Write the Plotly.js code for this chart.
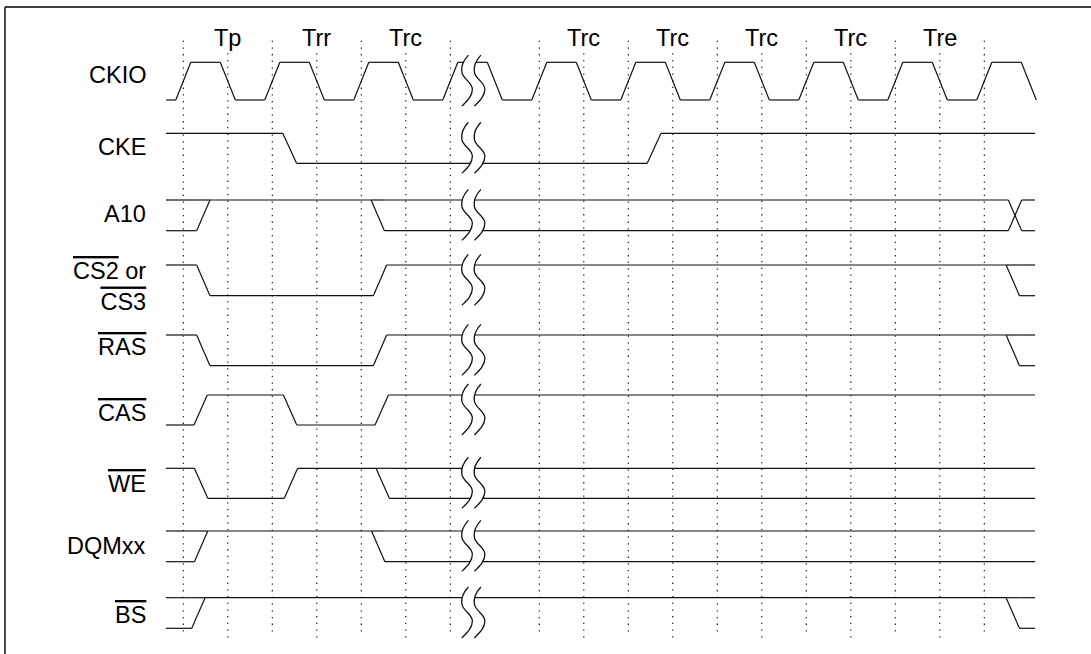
<!DOCTYPE html>
<html><head><meta charset="utf-8">
<script src="https://cdn.plot.ly/plotly-3.0.1.min.js"></script>
<style>html,body{margin:0;padding:0;background:#fff}</style>
</head><body><div id="chart" style="width:1091px;height:654px"></div>
<script>
// ---------- DATA (time in half-clock units, states H / L / X = both levels) ----------
const signalLabels = ['CKIO', 'CKE', 'A10', 'CS2 or CS3', 'RAS', 'CAS', 'WE', 'DQMxx', 'BS'];
const overlined = [false, false, false, true, true, true, true, false, true];

const ckioInit = 'L';
const ckioTimes  = [0, 1, 2, 3, 4, 5, 6, 7, 8, 9, 10, 11, 12, 13, 14, 15, 16, 17, 18, 19];
const ckioStates = ['H','L','H','L','H','L','H','L','H','L','H','L','H','L','H','L','H','L','H','L'];

const ckeInit = 'H';
const ckeTimes = [2.39, 10.58];
const ckeStates = ['L', 'H'];

const a10Init = 'X';
const a10Times = [0.45, 4.37, 18.69];
const a10States = ['H', 'X', 'X'];

const csInit = 'H';
const csTimes = [0.45, 4.42, 18.64];
const csStates = ['L', 'H', 'X'];

const rasInit = 'H';
const rasTimes = [0.45, 4.42, 18.64];
const rasStates = ['L', 'H', 'X'];

const casInit = 'L';
const casTimes = [0.39, 2.40, 4.46];
const casStates = ['H', 'L', 'H'];

const weInit = 'H';
const weTimes = [0.40, 2.42, 4.48];
const weStates = ['L', 'H', 'X'];

const dqmInit = 'X';
const dqmTimes = [0.40, 4.38];
const dqmStates = ['H', 'X'];

const bsInit = 'X';
const bsTimes = [0.34, 18.64];
const bsStates = ['H', 'X'];

const cycleLabels = ['Tp', 'Trr', 'Trc', 'Trc', 'Trc', 'Trc', 'Trc', 'Tre'];
const cycleLabelTimes = [1, 3, 5, 9, 11, 13, 15, 17];

const cycleEdgeTimes = [0, 2, 4, 6, 8, 10, 12, 14, 16, 18];
const halfEdgeTimes = [1, 3, 5, 9, 11, 13, 15, 17];

const breakTime = 6.26;
const startTime = -0.39;
const endTime = 19.14;

// ---------- LAYOUT CONSTANTS ----------
const W = 1091, H = 654;
const X0 = 183.3, UNIT = 44.5;           // pixel of t=0, pixels per half clock
const rowTop = [62.3, 133.3, 200, 265, 335, 395, 468.3, 531, 597.7];
const rowBot = [100, 163.3, 230.7, 295.7, 365.7, 425, 498.3, 561.7, 628.3];
const labelY = [75, 147, 214, 0, 347, 413, 484, 545.5, 615];
const FONT = 'Liberation Sans, Arial, Helvetica, sans-serif';
const FS = 23.5;

const signals = [
  {init: ckioInit, times: ckioTimes, states: ckioStates, hw: 0.169},
  {init: ckeInit, times: ckeTimes, states: ckeStates, hw: 0.155},
  {init: a10Init, times: a10Times, states: a10States, hw: 0.15},
  {init: csInit, times: csTimes, states: csStates, hw: 0.15},
  {init: rasInit, times: rasTimes, states: rasStates, hw: 0.15},
  {init: casInit, times: casTimes, states: casStates, hw: 0.15},
  {init: weInit, times: weTimes, states: weStates, hw: 0.15},
  {init: dqmInit, times: dqmTimes, states: dqmStates, hw: 0.15},
  {init: bsInit, times: bsTimes, states: bsStates, hw: 0.15}
];

function levels(s, r) {
  if (s === 'H') return [rowTop[r]];
  if (s === 'L') return [rowBot[r]];
  return [rowTop[r], rowBot[r]];
}

function buildSignal(sig, r) {
  const xs = [], ys = [];
  const seg = (xa, ya, xb, yb) => { xs.push(xa, xb, null); ys.push(ya, yb, null); };
  let cur = sig.init, segStart = startTime;
  sig.times.forEach((tc, i) => {
    const nxt = sig.states[i];
    const a = tc - sig.hw, b = tc + sig.hw;
    const la = levels(cur, r), lb = levels(nxt, r);
    la.forEach(y => seg(segStart, y, a, y));
    if (la.length === 1 && lb.length === 1) seg(a, la[0], b, lb[0]);
    else if (la.length === 1) lb.forEach(y => seg(a, la[0], b, y));
    else if (lb.length === 1) la.forEach(y => seg(a, y, b, lb[0]));
    else { seg(a, la[0], b, la[1]); seg(a, la[1], b, la[0]); }
    cur = nxt; segStart = b;
  });
  if (endTime > segStart) levels(cur, r).forEach(y => seg(segStart, y, endTime, y));
  return {xs, ys};
}

const traces = [];
// dotted timing grid
function gridTrace(times, y0, y1) {
  const xs = [], ys = [];
  times.forEach(t => { xs.push(t, t, null); ys.push(y0, y1, null); });
  return {type: 'scatter', mode: 'lines', x: xs, y: ys, hoverinfo: 'skip',
          line: {color: '#000', width: 1.1, dash: '1.3px,5.4px'}};
}
traces.push(gridTrace(cycleEdgeTimes, 40.7, 635));
traces.push(gridTrace(halfEdgeTimes, 53.3, 640));

signals.forEach((sig, r) => {
  const d = buildSignal(sig, r);
  traces.push({type: 'scatter', mode: 'lines', x: d.xs, y: d.ys, hoverinfo: 'skip',
               line: {color: '#111', width: 1.2}});
});

// break glyphs
const px = v => v / UNIT;
function curvePts(dx, yT, h) {
  const k = h / 51;
  const P = (x, y) => [breakTime + px(dx + x), yT + y * k];
  return [P(6.5, 0), [P(1, 6), P(-1, 11), P(0, 17)], [P(1, 24), P(10.5, 27), P(10.5, 34)], [P(10.5, 41), P(5, 46), P(0, 51)]];
}
function pathFwd(c) {
  let s = 'M' + c[0].join(',');
  for (let i = 1; i < c.length; i++) s += ' C' + c[i].map(p => p.join(',')).join(' ');
  return s;
}
function pathRev(c) {
  let s = '';
  for (let i = c.length - 1; i >= 1; i--) {
    const prev = i === 1 ? c[0] : c[i - 1][2];
    s += ' C' + [c[i][1], c[i][0], prev].map(p => p.join(',')).join(' ');
  }
  return s;
}
const shapes = [];
rowTop.forEach((yt, r) => {
  const mid = (yt + rowBot[r]) / 2 - 0.5;
  const h = 51, top = mid - h / 2;
  const c1 = curvePts(0, top, h), c2 = curvePts(12.5, top, h);
  const fill = pathFwd(c1) + ' L' + c2[3][2].join(',') + pathRev(c2) + ' Z';
  shapes.push({type: 'path', xref: 'x', yref: 'y', path: fill, fillcolor: '#fff', line: {width: 0}});
  shapes.push({type: 'path', xref: 'x', yref: 'y', path: pathFwd(c1), line: {color: '#111', width: 1.3}});
  shapes.push({type: 'path', xref: 'x', yref: 'y', path: pathFwd(c2), line: {color: '#111', width: 1.3}});
});

// frame (left and top edges)
shapes.push({type: 'line', xref: 'paper', yref: 'paper', x0: 5 / W, x1: 1, y0: 1 - 7 / H, y1: 1 - 7 / H, line: {color: '#000', width: 1.4}});
shapes.push({type: 'line', xref: 'paper', yref: 'paper', x0: 5 / W, x1: 5 / W, y0: 0, y1: 1 - 7 / H, line: {color: '#000', width: 1.4}});

// annotations
const ov = s => '<span style="text-decoration:overline">' + s + '</span>';
const annotations = [];
const labelRight = 147.5 / W;
signalLabels.forEach((lab, r) => {
  if (r === 3) {
    annotations.push({xref: 'paper', yref: 'y', x: labelRight, y: 286, xanchor: 'right', yanchor: 'middle',
      align: 'right', showarrow: false, text: ov('CS2') + ' or<br>' + ov('CS3'),
      font: {family: FONT, size: FS, color: '#000'}});
  } else {
    annotations.push({xref: 'paper', yref: 'y', x: labelRight, y: labelY[r], xanchor: 'right', yanchor: 'middle',
      showarrow: false, text: overlined[r] ? ov(lab) : lab, font: {family: FONT, size: FS, color: '#000'}});
  }
});
cycleLabels.forEach((lab, i) => {
  annotations.push({xref: 'x', yref: 'y', x: cycleLabelTimes[i], y: 38, xanchor: 'center', yanchor: 'middle',
    showarrow: false, text: lab, font: {family: FONT, size: FS, color: '#000'}});
});

const layout = {
  width: W, height: H, margin: {l: 0, r: 0, t: 0, b: 0},
  paper_bgcolor: '#fff', plot_bgcolor: '#fff', showlegend: false,
  xaxis: {range: [-X0 / UNIT, (W - X0) / UNIT], visible: false, fixedrange: true},
  yaxis: {range: [H, 0], visible: false, fixedrange: true},
  shapes: shapes, annotations: annotations
};
Plotly.newPlot('chart', traces, layout, {staticPlot: true, displayModeBar: false});
</script>
</body></html>
